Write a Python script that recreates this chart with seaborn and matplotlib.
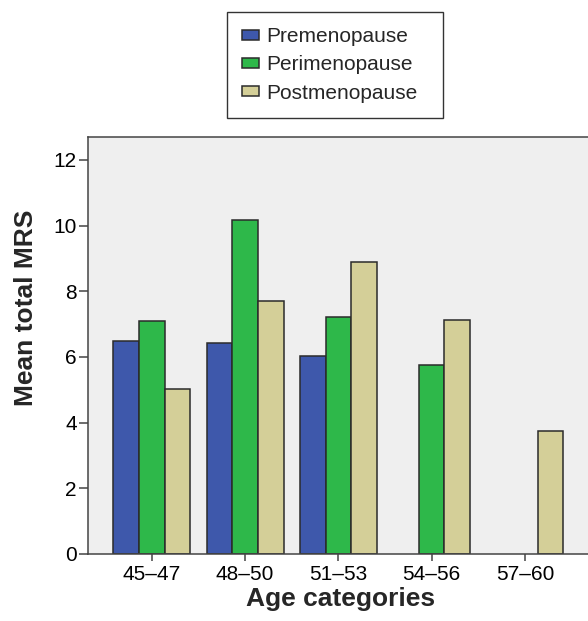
import numpy as np
import pandas as pd
import matplotlib
matplotlib.use("Agg")
import matplotlib.pyplot as plt
import seaborn as sns

# ---- data ----
categories = ["45\u201347", "48\u201350", "51\u201353", "54\u201356", "57\u201360"]
groups = ["Premenopause", "Perimenopause", "Postmenopause"]
premenopause = [6.49, 6.41, 6.03, np.nan, np.nan]
perimenopause = [7.09, 10.16, 7.22, 5.77, np.nan]
postmenopause = [5.01, 7.69, 8.89, 7.12, 3.75]
y_ticks = [0, 2, 4, 6, 8, 10, 12]

rows = []
for g, vals in zip(groups, [premenopause, perimenopause, postmenopause]):
    for c, v in zip(categories, vals):
        rows.append({"Age categories": c, "Group": g, "Mean total MRS": v})
df = pd.DataFrame(rows)

sns.set_theme(style="ticks")
plt.rcParams["font.family"] = ["Liberation Sans", "DejaVu Sans"]

palette = {"Premenopause": "#3E58AB", "Perimenopause": "#2EB84A", "Postmenopause": "#D4CF98"}

fig = plt.figure(figsize=(5.88, 6.21), dpi=100)
ax = fig.add_axes([0.1497, 0.1079, 0.86, 0.6711])
ax.set_facecolor("#EFEFEF")

sns.barplot(data=df, x="Age categories", y="Mean total MRS", hue="Group",
            order=categories, hue_order=groups, palette=palette,
            width=0.825, gap=0, errorbar=None, edgecolor="#2b2b2b",
            linewidth=1.1, saturation=1, ax=ax, legend=True)

ax.set_xlim(-0.683, 4.737)
ax.set_ylim(0, 12.69)
ax.set_yticks(y_ticks)
ax.set_yticklabels([str(t) for t in y_ticks])

for side in ["left", "bottom", "top"]:
    ax.spines[side].set_color("#444444")
    ax.spines[side].set_linewidth(1.1)
    ax.spines[side].set_visible(True)
ax.spines["right"].set_visible(False)

ax.tick_params(axis="y", length=6.5, width=1.1, color="#444444", pad=1.5,
               labelsize=15, labelcolor="black")
ax.tick_params(axis="x", length=5, width=1.1, color="#444444", pad=3,
               labelsize=15, labelcolor="black")

ax.set_xlabel("Age categories", fontsize=19, fontweight="bold", labelpad=2)
ax.set_ylabel("Mean total MRS", fontsize=19, fontweight="bold")
ax.yaxis.set_label_coords(-0.098, 0.59)

handles, labels = ax.get_legend_handles_labels()
ax.get_legend().remove()
leg = fig.legend(handles, labels, loc="upper left",
                 bbox_to_anchor=(0.3855, 0.5, 0.3673, 0.4812), mode="expand",
                 frameon=True, fancybox=False, fontsize=15, handlelength=0.8,
                 handleheight=0.4, handletextpad=0.35, labelspacing=0.44,
                 borderpad=0.75, borderaxespad=0)
leg.get_frame().set_edgecolor("black")
leg.get_frame().set_linewidth(1.0)
leg.get_frame().set_facecolor("white")

fig.savefig("out.png", dpi=100)
